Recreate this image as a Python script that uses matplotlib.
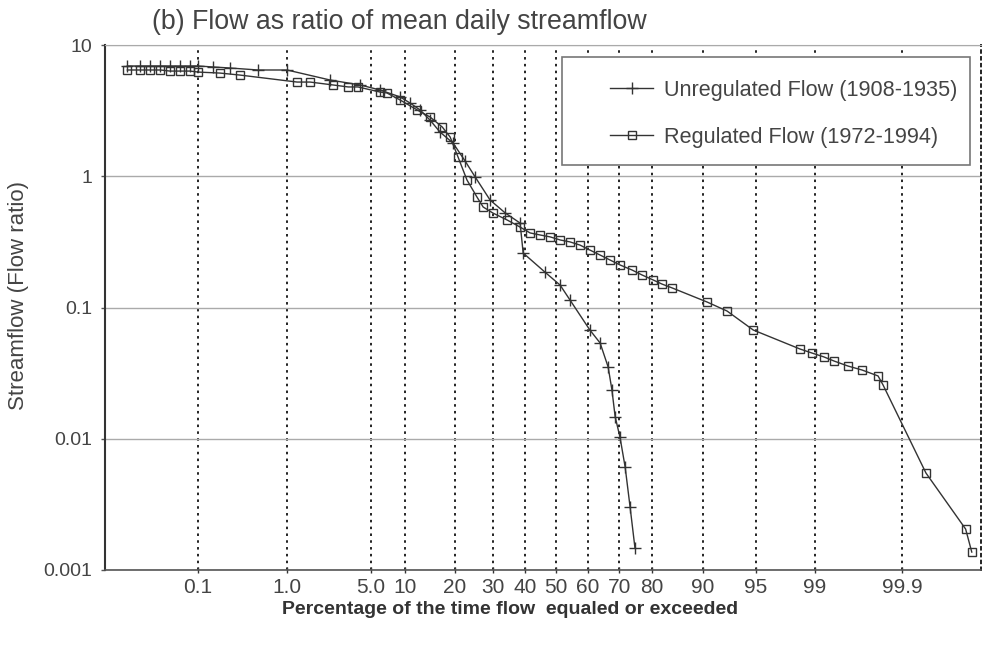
# Flow duration curves - flow as ratio of mean daily streamflow

import numpy as np
import matplotlib
matplotlib.use("Agg")
import matplotlib.pyplot as plt
from matplotlib.patches import Rectangle
from matplotlib.ticker import NullLocator
from statistics import NormalDist

plt.rcParams['font.family'] = ['Liberation Sans', 'DejaVu Sans']

# percentage of time flow equaled or exceeded / flow ratio
unreg_pct = [0.0108, 0.0166, 0.023, 0.032, 0.043, 0.059, 0.079, 0.1, 0.153, 0.243,
             0.50, 1.0, 2.4, 4.15, 6.07, 9.1, 10.8, 12.5, 14.4, 16.5, 19.5, 22.4,
             25.0, 29.15, 33.7, 38.4, 39.4, 46.4, 51.3, 54.4, 60.6, 64.0, 66.6,
             67.8, 68.8, 70.3, 72.0, 73.6, 75.1]
unreg_flow = [6.92, 6.92, 6.92, 6.92, 6.92, 6.92, 6.92, 6.92, 6.80, 6.68,
              6.45, 6.45, 5.41, 4.96, 4.54, 4.02, 3.61, 3.20, 2.68, 2.17, 1.79, 1.31,
              0.99, 0.659, 0.525, 0.44, 0.26, 0.186, 0.148, 0.114, 0.0674, 0.0537,
              0.0352, 0.0235, 0.0147, 0.0103, 0.0061, 0.0030, 0.00147]

reg_pct = [0.0108, 0.0166, 0.023, 0.032, 0.043, 0.059, 0.079, 0.1, 0.186, 0.317,
           1.24, 1.62, 2.54, 3.36, 4.0, 6.07, 7.0, 9.1, 12.0, 14.4, 17.0, 18.8,
           20.7, 22.9, 25.5, 27.2, 30.0, 34.3, 38.4, 41.6, 44.8, 48.1, 51.3, 54.4,
           57.5, 60.6, 64.0, 67.2, 70.3, 74.2, 77.2, 80.3, 82.3, 84.5, 90.5, 92.6,
           94.8, 98.43, 98.90, 99.191, 99.367, 99.555, 99.692, 99.801, 99.827,
           99.9517, 99.9868, 99.9893]
reg_flow = [6.45, 6.45, 6.45, 6.45, 6.33, 6.33, 6.33, 6.22, 6.11, 5.90,
            5.22, 5.22, 4.96, 4.79, 4.79, 4.38, 4.31, 3.81, 3.20, 2.83, 2.37, 1.99,
            1.40, 0.936, 0.695, 0.583, 0.524, 0.464, 0.410, 0.370, 0.357, 0.345,
            0.327, 0.316, 0.299, 0.274, 0.251, 0.230, 0.211, 0.193, 0.177, 0.162,
            0.151, 0.141, 0.110, 0.094, 0.0674, 0.0483, 0.045, 0.042, 0.0391, 0.0358,
            0.0334, 0.0301, 0.0257, 0.00548, 0.00205, 0.00137]

tick_pct = [0.1, 1.0, 5.0, 10, 20, 30, 40, 50, 60, 70, 80, 90, 95, 99, 99.9]
tick_labels = ['0.1', '1.0', '5.0', '10', '20', '30', '40', '50', '60', '70',
               '80', '90', '95', '99', '99.9']
y_ticks = [0.001, 0.01, 0.1, 1, 10]
y_labels = ['0.001', '0.01', '0.1', '1', '10']

# probability paper: normal quantile, with the printed grid spacing of the sheet
nd = NormalDist()
sheet_z = [-8.0, -3.090, -2.326, -1.645, -1.282, -0.842, -0.524, -0.253, 0.0,
           0.253, 0.524, 0.842, 1.282, 1.645, 2.326, 3.090, 8.0]
sheet_u = [-372, 198, 287, 371, 405, 455, 493, 525, 556, 588, 619, 652, 703,
           756, 815, 902, 1462]

_z = np.vectorize(lambda p: nd.inv_cdf(min(max(p / 100.0, 1e-12), 1 - 1e-12)))
_p = np.vectorize(lambda z: nd.cdf(z) * 100.0)


def forward(p):
    p = np.asarray(p, dtype=float)
    if p.size == 0:
        return p
    return np.interp(_z(p), sheet_z, sheet_u)


def inverse(u):
    u = np.asarray(u, dtype=float)
    if u.size == 0:
        return u
    return _p(np.interp(u, sheet_u, sheet_z))


fig = plt.figure(figsize=(9.86, 6.48), dpi=100)
ax = fig.add_axes([105 / 986, 1 - 570 / 648, 876 / 986, 525 / 648])
ax.set_xscale('function', functions=(forward, inverse))
ax.set_yscale('log')

line_col = '#333333'
ax.plot(unreg_pct, unreg_flow, color=line_col, lw=1.0, marker='+', ms=8, mew=1.0,
        label='Unregulated Flow (1908-1935)', zorder=3)
ax.plot(reg_pct, reg_flow, color=line_col, lw=1.0, marker='s', ms=6, mew=1.0,
        fillstyle='none', label='Regulated Flow (1972-1994)', zorder=3)

ax.set_xlim(0.00497, 99.99225)
ax.set_ylim(0.001, 10)
ax.set_xticks(tick_pct)
ax.set_xticklabels(tick_labels)
ax.set_yticks(y_ticks)
ax.set_yticklabels(y_labels)
ax.xaxis.set_minor_locator(NullLocator())
ax.yaxis.set_minor_locator(NullLocator())
ax.tick_params(axis='x', direction='inout', length=5, width=1, colors='#333333',
               labelsize=15, labelcolor='#444444', pad=3)
ax.tick_params(axis='y', direction='out', length=3, width=1, colors='#555555',
               labelsize=14, labelcolor='#444444', pad=6)

ax.grid(axis='x', color='#222222', linestyle=(0, (1.3, 2.2)), lw=1.4)
ax.grid(axis='y', color='#aaaaaa', linestyle='-', lw=1.0)
ax.set_axisbelow(True)

ax.spines['left'].set_color('#333333')
ax.spines['left'].set_linewidth(1.5)
ax.spines['bottom'].set_color('#555555')
ax.spines['bottom'].set_linewidth(1.2)
ax.spines['top'].set_color('#aaaaaa')
ax.spines['right'].set_color('#222222')
ax.spines['right'].set_linestyle((0, (1.3, 2.2)))
ax.spines['right'].set_linewidth(1.4)

# legend box
ax.add_patch(Rectangle((0.522, 0.771), 0.465, 0.206, transform=ax.transAxes,
                       facecolor='white', edgecolor='#777777', lw=1.2, zorder=5))
leg = ax.legend(loc='upper left', bbox_to_anchor=(0.5765, 0.934), frameon=False,
                fontsize=15.6, handlelength=2.0, handletextpad=0.5, labelspacing=1.2,
                borderpad=0, borderaxespad=0)
leg.set_zorder(10)
for t in leg.get_texts():
    t.set_color('#444444')

fig.text(399 / 986, 1 - 22 / 648, '(b) Flow as ratio of mean daily streamflow',
         ha='center', va='center', fontsize=19.3, color='#444444')
fig.text(510 / 986, 1 - 609 / 648, 'Percentage of the time flow  equaled or exceeded',
         ha='center', va='center', fontsize=14, fontweight='bold', color='#333333')
fig.text(19 / 986, 1 - 295 / 648, 'Streamflow (Flow ratio)', rotation=90,
         ha='center', va='center', fontsize=16, color='#444444')

fig.savefig('out.png', dpi=100, facecolor='white')
